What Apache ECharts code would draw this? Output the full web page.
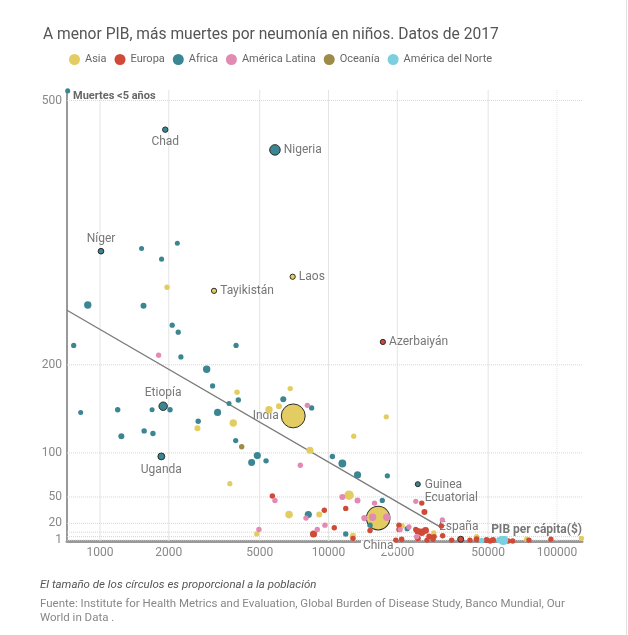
<!DOCTYPE html>
<html><head><meta charset="utf-8">
<script src="https://cdn.jsdelivr.net/npm/echarts@6/dist/echarts.min.js"></script>
<style>html,body{margin:0;padding:0;background:#fff;}#c{width:628px;height:635px;}</style>
</head><body><div id="c"></div>
<script>
// Continent names and colours
const continents = ['Asia', 'Europa', 'Africa', 'América Latina', 'Oceanía', 'América del Norte'];
const continentColors = ['#e3cd62', '#d04a38', '#3b8692', '#e38ab3', '#9d8c48', '#7acfe0'];

// [PIB per cápita ($), muertes <5 años, población (millones)]
const asia = [
  [1965, 288, 3], [3980, 169, 3], [6800, 173, 3], [5490, 149, 30], [6070, 153, 8],
  [3830, 134, 30], [2670, 128, 8], [8300, 103, 25], [17900, 141, 2], [12900, 119, 2],
  [3700, 65, 2], [12300, 52, 90], [6720, 30, 35], [9110, 30, 8], [4850, 8, 2],
  [12800, 6, 8], [21000, 17, 3], [28900, 9, 3], [44500, 5, 2], [73700, 2, 2], [128000, 3, 2]
];
const europa = [
  [5680, 51, 3], [11900, 37, 3], [9590, 35, 3], [25600, 43, 3], [26300, 33, 8],
  [10600, 15, 3], [8600, 8, 25], [12800, 3, 3], [15200, 12, 3], [20350, 18, 3],
  [20350, 13, 3], [24100, 13, 3], [25600, 10, 30], [24600, 11, 20], [26600, 12, 20],
  [27600, 5, 8], [28700, 2, 3], [29000, 5, 3], [31600, 6, 3], [31200, 17, 3],
  [34600, 1, 3], [41600, 1, 3], [44500, 2, 8], [49200, 1, 8], [52500, 1, 8],
  [51000, 0, 3], [61200, 0, 3], [64000, 0, 3], [75400, 1, 3], [94100, 2, 2],
  [19700, 1, 3], [20900, 2, 3], [24600, 3, 8], [27000, 1, 3]
];
const africa = [
  [722, 511, 1], [1520, 332, 1], [1860, 320, 1], [2180, 338, 1], [884, 268, 30],
  [1550, 267, 8], [2070, 245, 2], [2200, 237, 2], [767, 222, 2], [3940, 222, 2],
  [2260, 209, 2], [2930, 195, 30], [3110, 176, 2], [4030, 160, 3], [6340, 161, 8],
  [3670, 156, 1], [823, 146, 1], [1195, 149, 3], [1690, 149, 1], [2025, 149, 3],
  [8440, 151, 2], [3270, 146, 25], [2690, 136, 3], [1240, 119, 8], [1560, 125, 3],
  [1705, 122, 3], [3925, 114, 2], [4880, 97, 25], [4610, 89, 22], [5330, 91, 3],
  [10400, 96, 3], [11500, 88, 40], [13400, 75, 25], [18100, 74, 2], [17200, 46, 2],
  [8160, 30, 25], [11900, 8, 3], [15200, 18, 3], [22100, 14, 2]
];
const americaLatina = [
  [1805, 211, 2], [8080, 154, 3], [7530, 86, 3], [11500, 50, 8], [13400, 46, 8],
  [15900, 43, 3], [24100, 45, 2], [7970, 26, 3], [5830, 46, 3], [9650, 18, 3],
  [8930, 13, 3], [4960, 13, 3], [14350, 26, 10], [15600, 27, 30], [18000, 27, 30],
  [31500, 24, 2], [20600, 13, 2], [24300, 5, 3], [22500, 16, 2]
];
const oceania = [[4170, 107, 3]];
const americaNorte = [[46800, 0.5, 3], [55900, 1, 10], [58200, 1, 108]];

// Countries with a name label
const hlNames = ['Chad', 'Nigeria', 'Níger', 'Etiopía', 'Uganda', 'Guinea Ecuatorial', 'Laos', 'Tayikistán', 'India', 'China', 'Azerbaiyán', 'España'];
const hlGdp = [1930, 5830, 1010, 1890, 1855, 24600, 6970, 3155, 7010, 16500, 17300, 37900];
const hlDeaths = [467, 444, 329, 153, 96, 64.5, 300, 284, 142, 26, 226, 2];
const hlPop = [3, 130, 5, 55, 20, 1, 2, 2, 1340, 1300, 2, 8];
const hlContinent = ['Africa', 'Africa', 'Africa', 'Africa', 'Africa', 'Africa', 'Asia', 'Asia', 'Asia', 'Asia', 'Europa', 'Europa'];

// Trend line endpoints
const trendGdp = [717, 30800];
const trendDeaths = [262, 16];

// Axis ticks
const xTicks = [1000, 2000, 5000, 10000, 20000, 50000, 100000];
const yTicks = [1, 20, 50, 100, 200, 500];
const yGrid = [1, 5, 10, 20, 50, 100, 200, 500];
const xRange = [717, 128700];
const yRange = [0, 512];

const FONT = 'Roboto, "Open Sans", sans-serif';
const sizeFn = v => 4.5 + 0.53 * Math.sqrt(v[2]);

const labelStyles = {
  'Chad': { position: 'bottom', distance: 3 },
  'Nigeria': { position: 'right', distance: 3 },
  'Níger': { position: 'top', distance: 3 },
  'Etiopía': { position: 'top', distance: 3 },
  'Uganda': { position: 'bottom', distance: 4 },
  'Guinea Ecuatorial': { position: 'right', distance: 4, offset: [0, 7], formatter: 'Guinea\nEcuatorial', lineHeight: 13 },
  'Laos': { position: 'right', distance: 3 },
  'Tayikistán': { position: 'right', distance: 3 },
  'India': { position: 'left', distance: 2 },
  'China': { position: 'bottom', distance: 10, backgroundColor: '#fff', padding: [0, 2] },
  'Azerbaiyán': { position: 'right', distance: 3 },
  'España': { position: 'top', distance: 2, offset: [-2, -1] }
};

const seriesData = [asia, europa, africa, americaLatina, oceania, americaNorte];

const chart = echarts.init(document.getElementById('c'), null, { renderer: 'canvas' });

const series = [];
// Gridlines drawn through the axes' own scales
xTicks.forEach((t, i) => series.push({
  type: 'line', silent: true, symbol: 'none', z: 0,
  data: [[t, yRange[0]], [t, yRange[1]]],
  lineStyle: { color: '#e4e4e4', width: 1, type: i === xTicks.length - 1 ? 'dotted' : 'solid' }
}));
yGrid.forEach(t => series.push({
  type: 'line', silent: true, symbol: 'none', z: 0,
  data: [[xRange[0], t], [xRange[1], t]],
  lineStyle: { color: '#d6d6d6', width: 1, type: 'dotted' }
}));
series.push({
  name: 'trend',
  type: 'line',
  data: trendGdp.map((g, i) => [g, trendDeaths[i]]),
  symbol: 'none',
  lineStyle: { color: '#7a7a7a', width: 1.3 },
  z: 1,
  silent: true
});
series.push({
  name: 'highlight',
  type: 'scatter',
  z: 2,
  data: hlNames.map((n, i) => ({
    name: n,
    value: [hlGdp[i], hlDeaths[i], hlPop[i]],
    cont: hlContinent[i],
    label: labelStyles[n]
  })),
  symbolSize: sizeFn,
  itemStyle: {
    color: p => continentColors[continents.indexOf(p.data.cont)],
    borderColor: '#2b2b2b',
    borderWidth: 1,
    opacity: 1
  },
  label: {
    show: true,
    formatter: '{b}',
    color: '#777',
    fontSize: 12,
    fontFamily: FONT
  }
});
continents.forEach((c, i) => {
  series.push({
    name: c,
    type: 'scatter',
    z: 3,
    data: seriesData[i],
    symbolSize: sizeFn,
    itemStyle: { color: continentColors[i], opacity: 1 }
  });
});

chart.setOption({
  animation: false,
  backgroundColor: '#fff',
  textStyle: { fontFamily: FONT },
  title: {
    text: 'A menor PIB, más muertes por neumonía en niños. Datos de 2017',
    left: 38, top: 22,
    textStyle: { fontSize: 15.6, fontWeight: 'normal', color: '#555', fontFamily: FONT }
  },
  legend: {
    data: continents,
    left: 64, top: 49,
    icon: 'circle',
    itemWidth: 11, itemHeight: 11,
    itemGap: 8,
    textStyle: { fontSize: 11, color: '#666', fontFamily: FONT }
  },
  grid: { left: 67, right: 46, top: 90, bottom: 94 },
  xAxis: {
    type: 'log',
    min: xRange[0], max: xRange[1],
    axisLine: { show: true, lineStyle: { color: '#999', width: 3 } },
    axisTick: { show: false },
    splitLine: { show: false },
    minorSplitLine: { show: false },
    axisLabel: { customValues: xTicks, formatter: v => String(Math.round(v)), color: '#888', fontSize: 12, margin: 6, fontFamily: FONT }
  },
  yAxis: {
    type: 'value',
    min: yRange[0], max: yRange[1],
    axisLine: { show: true, lineStyle: { color: '#999', width: 2 } },
    axisTick: { show: false },
    splitLine: { show: false },
    axisLabel: { customValues: yTicks, formatter: v => String(v), color: '#888', fontSize: 12, margin: 5, fontFamily: FONT }
  },
  graphic: [
    { type: 'text', left: 73, top: 91, z: 10, style: { text: 'Muertes <5 años', font: 'bold 11px ' + FONT, fill: '#666' } },
    { type: 'text', right: 46, top: 524, z: 10, style: { text: 'PIB per cápita($)', font: 'bold 12px ' + FONT, fill: '#777', backgroundColor: '#fff' } },
    { type: 'text', left: 40, top: 579, style: { text: 'El tamaño de los círculos es proporcional a la población', font: 'italic 11.5px ' + FONT, fill: '#555' } },
    { type: 'text', left: 40, top: 597, style: { text: 'Fuente: Institute for Health Metrics and Evaluation, Global Burden of Disease Study, Banco Mundial, Our\nWorld in Data .', font: '11.5px ' + FONT, fill: '#888', lineHeight: 14 } },
    { type: 'rect', shape: { x: 626, y: 0, width: 1, height: 635 }, style: { fill: '#e2e2e2' } }
  ],
  series: series
});
</script>
</body></html>
